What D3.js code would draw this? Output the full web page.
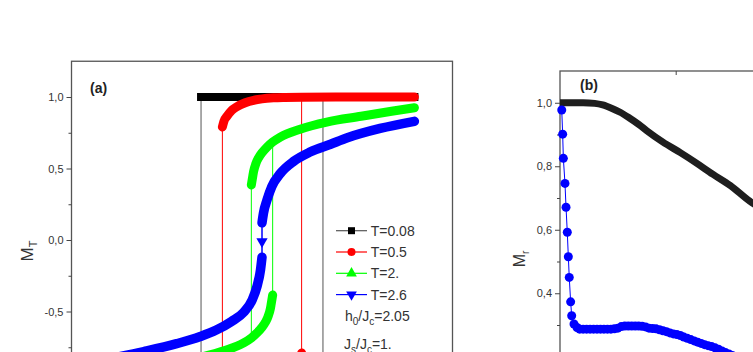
<!DOCTYPE html>
<html>
<head>
<meta charset="utf-8">
<script src="https://cdn.jsdelivr.net/npm/d3@7"></script>
<style>
  body { margin: 0; background: #fff; }
  svg { display: block; font-family: "Liberation Sans", Arial, sans-serif; }
</style>
</head>
<body>
<div id="chart"></div>
<script>
// Panel (a): hysteresis loops M_T vs h/Jc
const seriesNames = ["T=0.08", "T=0.5", "T=2.", "T=2.6"];
const loopTicks = [-1.0, -0.5, 0.0, 0.5, 1.0];
const loopMinorTicks = [-0.75, -0.25, 0.25, 0.75];

// each branch: [h/Jc, M_T], upper branch ends where the field jumps down, lower one where it jumps up
const blackUpper = [[-0.8, 1.0], [0.8, 1.0], [2.0, 1.0]];
const blackLower = [[-2.0, -1.0], [-0.8, -1.0], [0.8, -1.0]];
const redUpper = [[-0.52, 0.79], [-0.50, 0.83], [-0.46, 0.865], [-0.40, 0.905], [-0.33, 0.932], [-0.22, 0.96],
                  [-0.11, 0.977], [0.0, 0.987], [0.15, 0.994], [0.3, 0.997], [0.52, 0.999], [1.0, 1.0], [1.5, 1.0], [2.0, 1.0]];
const redLower = [[-2.0, -1.0], [-1.5, -1.0], [-1.0, -1.0], [-0.52, -0.999], [-0.3, -0.997], [-0.15, -0.994], [0.0, -0.987],
                  [0.11, -0.977], [0.22, -0.96], [0.33, -0.932], [0.40, -0.905], [0.46, -0.865], [0.50, -0.83], [0.52, -0.79]];
const greenUpper = [[-0.14, 0.385], [-0.12, 0.45], [-0.11, 0.48], [-0.08, 0.535], [-0.045, 0.575], [0.0, 0.61],
                    [0.066, 0.65], [0.14, 0.685], [0.24, 0.72], [0.5, 0.775], [0.85, 0.825], [1.3, 0.865],
                    [1.7, 0.90], [2.0, 0.925]];
const greenLower = [[-2.0, -0.925], [-1.7, -0.90], [-1.3, -0.865], [-0.85, -0.825], [-0.5, -0.775], [-0.24, -0.72],
                    [-0.14, -0.685], [-0.066, -0.65], [0.0, -0.61], [0.045, -0.575], [0.08, -0.535], [0.11, -0.48],
                    [0.12, -0.45], [0.14, -0.385]];
const blueUpper = [[0.0, 0.12], [0.02, 0.19], [0.066, 0.28], [0.13, 0.375], [0.24, 0.465], [0.415, 0.55],
                   [0.63, 0.615], [0.9, 0.67], [1.12, 0.715], [1.55, 0.78], [2.0, 0.83]];
const blueLower = [[-2.0, -0.83], [-1.55, -0.78], [-1.12, -0.725], [-0.81, -0.675], [-0.6, -0.63], [-0.4, -0.57],
                   [-0.24, -0.505], [-0.13, -0.42], [-0.066, -0.325], [-0.02, -0.21], [0.0, -0.12]];
const blueJump = [[0.0, -0.01]];

// Panel (b): remanent magnetization M_r
const remTicks = [0.2, 0.4, 0.6, 0.8, 1.0];
const remMinorTicks = [0.3, 0.5, 0.7, 0.9];
const remTopTicks = [1];
const blackRem = [[0, 1.0], [0.1, 1.0], [0.2, 1.0], [0.3, 0.998], [0.37, 0.993], [0.45, 0.982], [0.52, 0.97],
                  [0.6, 0.952], [0.68, 0.932], [0.75, 0.912], [0.89, 0.876], [1.04, 0.843], [1.18, 0.81],
                  [1.32, 0.775], [1.47, 0.74], [1.64, 0.69], [1.82, 0.65]];
const blueRem = [[0.015, 0.977], [0.023, 0.901], [0.029, 0.825], [0.043, 0.746], [0.052, 0.671], [0.063, 0.592],
                 [0.072, 0.515], [0.080, 0.450], [0.092, 0.373], [0.101, 0.329], [0.121, 0.303], [0.147, 0.292],
                 [0.17, 0.287], [0.20, 0.287], [0.23, 0.287], [0.26, 0.287], [0.29, 0.287], [0.32, 0.287],
                 [0.35, 0.287], [0.38, 0.287], [0.41, 0.287], [0.44, 0.287], [0.47, 0.288], [0.50, 0.290],
                 [0.53, 0.295], [0.56, 0.297], [0.59, 0.297], [0.62, 0.297], [0.65, 0.297], [0.68, 0.297],
                 [0.71, 0.296], [0.74, 0.294], [0.77, 0.290], [0.80, 0.289], [0.83, 0.288], [0.86, 0.285],
                 [0.89, 0.282], [0.92, 0.279], [0.95, 0.275], [0.98, 0.272], [1.01, 0.270], [1.04, 0.267],
                 [1.07, 0.262], [1.10, 0.258], [1.13, 0.254], [1.16, 0.250], [1.19, 0.246], [1.22, 0.242],
                 [1.25, 0.238], [1.28, 0.235], [1.31, 0.232], [1.34, 0.228], [1.37, 0.224], [1.40, 0.218],
                 [1.43, 0.213], [1.46, 0.209], [1.49, 0.204], [1.52, 0.200], [1.55, 0.196], [1.58, 0.191],
                 [1.61, 0.187], [1.64, 0.182], [1.67, 0.178]];

function drawChart() {
    const width = 753, height = 352;
    const font = "Liberation Sans, Arial, sans-serif";

    const svg = d3.select("#chart").append("svg")
        .attr("width", width)
        .attr("height", height);

    svg.append("rect").attr("width", width).attr("height", height).attr("fill", "#fff");

    // scales (bottom of both panels is cut off by the picture)
    const xA = d3.scaleLinear().domain([-2.5, 2.5]).range([71.5, 452.5]);
    const yA = d3.scaleLinear().domain([-1.25, 1.25]).range([418.75, 61.25]);
    const xB = d3.scaleLinear().domain([0, 2]).range([560, 791.4]);
    const yB = d3.scaleLinear().domain([0, 1.1]).range([420.25, 71]);

    const commaFmt = d => d3.format(".1f")(d).replace("\u2212", "-").replace(".", ",");

    function styleAxis(g) {
        g.attr("font-size", 11).attr("font-family", font);
        g.select(".domain").remove();
        g.selectAll("line").attr("stroke", "#444").attr("stroke-width", 1);
        g.selectAll("text").attr("fill", "#333");
    }

    // ---------- panel (a) ----------
    const pa = svg.append("g");

    pa.append("rect")
        .attr("x", xA.range()[0]).attr("y", yA.range()[1])
        .attr("width", xA.range()[1] - xA.range()[0])
        .attr("height", yA.range()[0] - yA.range()[1])
        .attr("fill", "none").attr("stroke", "#555").attr("stroke-width", 1.3);

    pa.append("g")
        .attr("transform", `translate(${xA.range()[0]},0)`)
        .call(d3.axisLeft(yA).tickValues(loopTicks).tickFormat(commaFmt).tickSize(5).tickSizeOuter(0))
        .call(styleAxis);

    pa.append("g")
        .attr("transform", `translate(${xA.range()[0]},0)`)
        .call(d3.axisLeft(yA).tickValues(loopMinorTicks).tickFormat("").tickSize(3).tickSizeOuter(0))
        .call(styleAxis);

    const thinA = d3.line().x(d => xA(d[0])).y(d => yA(d[1]));
    const bandA = d3.line().x(d => xA(d[0])).y(d => yA(d[1])).curve(d3.curveMonotoneX);

    const loops = [
        {upper: blackUpper, lower: blackLower, color: "#000", line: "#555", cap: "square", width: 8},
        {upper: redUpper, lower: redLower, color: "#ff0000", line: "#ff0000", cap: "round", width: 9},
        {upper: greenUpper, lower: greenLower, color: "#00ff00", line: "#00ff00", cap: "round", width: 9},
        {upper: blueUpper, lower: blueLower, color: "#0000ff", line: "#0000ff", cap: "round", width: 9.5}
    ];

    loops.forEach(s => {
        // thin connecting line incl. the jumps
        const hDown = s.upper[0][0];
        const hUp = s.lower[s.lower.length - 1][0];
        const jumps = [
            [s.upper[0], s.lower.find(p => p[0] === hDown)],
            [s.lower[s.lower.length - 1], s.upper.find(p => p[0] === hUp)]
        ];
        [s.upper, s.lower, ...jumps].forEach(seg => {
            pa.append("path")
                .attr("d", thinA(seg))
                .attr("fill", "none")
                .attr("stroke", s.line)
                .attr("stroke-width", 1);
        });
        // dense markers -> thick band
        [s.upper, s.lower].forEach(seg => {
            pa.append("path")
                .attr("d", bandA(seg))
                .attr("fill", "none")
                .attr("stroke", s.color)
                .attr("stroke-width", s.width)
                .attr("stroke-linecap", s.cap)
                .attr("stroke-linejoin", "round");
        });
    });

    pa.selectAll(".blue-jump")
        .data(blueJump)
        .enter()
        .append("path")
        .attr("class", "blue-jump")
        .attr("transform", d => `translate(${xA(d[0])},${yA(d[1])}) rotate(180)`)
        .attr("d", d3.symbol(d3.symbolTriangle, 55))
        .attr("fill", "#0000ff");

    pa.append("text")
        .attr("x", 90).attr("y", 93)
        .attr("font-size", 14).attr("font-weight", "bold").attr("fill", "#222")
        .text("(a)");

    const mt = pa.append("text")
        .attr("transform", "translate(33,251) rotate(-90)")
        .attr("text-anchor", "middle")
        .attr("fill", "#333")
        .attr("font-size", 17);
    mt.append("tspan").text("M");
    mt.append("tspan").attr("font-size", 11).attr("dy", 4).text("T");

    // legend
    const legendSymbols = [d3.symbolSquare, d3.symbolCircle, d3.symbolTriangle, d3.symbolTriangle];
    const legendSizes = [49, 50, 50, 50];
    const legend = pa.append("g").attr("font-size", 14).attr("fill", "#333");
    seriesNames.forEach((name, i) => {
        const y = 230.7 + i * 21.3;
        legend.append("line")
            .attr("x1", 336).attr("x2", 367).attr("y1", y).attr("y2", y)
            .attr("stroke", loops[i].line).attr("stroke-width", 1.2);
        legend.append("path")
            .attr("transform", `translate(351.5,${y})` + (i === 3 ? " rotate(180)" : ""))
            .attr("d", d3.symbol(legendSymbols[i], legendSizes[i]))
            .attr("fill", loops[i].color);
        legend.append("text")
            .attr("x", 370.7).attr("y", y + 5)
            .text(name);
    });

    const h0 = legend.append("text").attr("x", 345).attr("y", 321);
    h0.append("tspan").text("h");
    h0.append("tspan").attr("font-size", 10).attr("dy", 4).text("0");
    h0.append("tspan").attr("dy", -4).text("/J");
    h0.append("tspan").attr("font-size", 10).attr("dy", 4).text("c");
    h0.append("tspan").attr("dy", -4).text("=2.05");

    const js = legend.append("text").attr("x", 344).attr("y", 348.5);
    js.append("tspan").text("J");
    js.append("tspan").attr("font-size", 10).attr("dy", 4).text("s");
    js.append("tspan").attr("dy", -4).text("/J");
    js.append("tspan").attr("font-size", 10).attr("dy", 4).text("c");
    js.append("tspan").attr("dy", -4).text("=1.");

    // ---------- panel (b) ----------
    const pb = svg.append("g");

    pb.append("rect")
        .attr("x", xB.range()[0]).attr("y", yB.range()[1])
        .attr("width", xB.range()[1] - xB.range()[0])
        .attr("height", yB.range()[0] - yB.range()[1])
        .attr("fill", "none").attr("stroke", "#555").attr("stroke-width", 1.3);

    pb.append("g")
        .attr("transform", `translate(${xB.range()[0]},0)`)
        .call(d3.axisLeft(yB).tickValues(remTicks).tickFormat(commaFmt).tickSize(5).tickSizeOuter(0))
        .call(styleAxis);

    pb.append("g")
        .attr("transform", `translate(${xB.range()[0]},0)`)
        .call(d3.axisLeft(yB).tickValues(remMinorTicks).tickFormat("").tickSize(3).tickSizeOuter(0))
        .call(styleAxis);

    pb.append("g")
        .attr("transform", `translate(0,${yB.range()[1]})`)
        .call(d3.axisTop(xB).tickValues(remTopTicks).tickFormat("").tickSize(-4).tickSizeOuter(0))
        .call(styleAxis);

    const lineB = d3.line().x(d => xB(d[0])).y(d => yB(d[1]));

    pb.append("path")
        .datum(blackRem)
        .attr("d", lineB.curve(d3.curveMonotoneX))
        .attr("fill", "none")
        .attr("stroke", "#1e1e1e")
        .attr("stroke-width", 7);

    pb.append("path")
        .datum(blueRem)
        .attr("d", d3.line().x(d => xB(d[0])).y(d => yB(d[1])))
        .attr("fill", "none")
        .attr("stroke", "#0000ff")
        .attr("stroke-width", 1);

    pb.selectAll(".dot-b")
        .data(blueRem)
        .enter()
        .append("circle")
        .attr("class", "dot-b")
        .attr("cx", d => xB(d[0]))
        .attr("cy", d => yB(d[1]))
        .attr("r", 4.5)
        .attr("fill", "#0000ff");

    pb.append("text")
        .attr("x", 580).attr("y", 90)
        .attr("font-size", 14).attr("font-weight", "bold").attr("fill", "#222")
        .text("(b)");

    const mr = pb.append("text")
        .attr("transform", "translate(525,259) rotate(-90)")
        .attr("text-anchor", "middle")
        .attr("fill", "#333")
        .attr("font-size", 16);
    mr.append("tspan").text("M");
    mr.append("tspan").attr("font-size", 10).attr("dy", 4).text("r");
}

document.addEventListener("DOMContentLoaded", drawChart);
</script>
</body>
</html>
